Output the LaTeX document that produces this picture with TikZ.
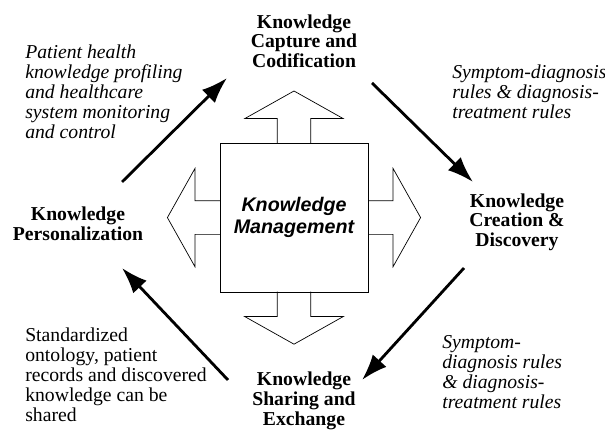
\documentclass[tikz,border=0pt]{standalone}
\usepackage{fontspec}
\setmainfont{Liberation Serif}
\newfontfamily\kmsans{Liberation Sans}
\usetikzlibrary{arrows.meta,positioning}

\tikzset{
  stage/.style={align=center,inner sep=0pt,
    font=\fontsize{14}{14}\selectfont\bfseries},
  flowlbl/.style={anchor=west,align=left,inner sep=0pt,
    font=\fontsize{14}{14.2}\selectfont\itshape},
  flow/.style={-{Latex[length=6.5mm,width=4.6mm]},line width=2pt},
  blockarrow/.style={line width=.5pt,line join=miter},
}

\begin{document}
\begin{tikzpicture}[x=1cm,y=1cm]
    \useasboundingbox (0,0) rectangle (15.125,10.75);
    % centre box
    \node[draw,line width=.6pt,minimum width=3.7cm,minimum height=3.725cm,
      align=center,font=\kmsans\fontsize{14}{15.6}\selectfont\bfseries\itshape]
      (km) at (7.35,5.31) {Knowledge\\Management};
    \foreach \ang in {0,90,180,270}
      \draw[blockarrow,shift={(km.center)},rotate=\ang]
        (1.85,.42) -- (2.475,.42) -- (2.475,1.23) -- (3.165,0)
        -- (2.475,-1.23) -- (2.475,-.42) -- (1.85,-.42);
    % stages
    \node[stage] (capt) at (7.6,9.725) {Knowledge\\Capture and\\Codification};
    \node[stage] (creat) at (12.925,5.2) {Knowledge\\Creation \&\\Discovery};
    \node[stage] (share) at (7.6,.725) {Knowledge\\Sharing and\\Exchange};
    \node[stage] (pers) at (1.95,5.15) {Knowledge\\Personalization};
    % labels of the cycle
    \node[flowlbl] (lblprofile) at (.625,8.45)
      {Patient health\\knowledge profiling\\and healthcare\\system monitoring\\and control};
    \node[flowlbl] (lblrules) at (11.3,8.45)
      {Symptom-diagnosis\\rules \& diagnosis-\\treatment rules};
    \node[flowlbl] (lblrulesb) at (11.05,1.45)
      {Symptom-\\diagnosis rules\\\& diagnosis-\\treatment rules};
    \node[flowlbl,font=\fontsize{14}{14.2}\selectfont\upshape] (lblshared) at (.625,1.375)
      {Standardized\\ontology, patient\\records and discovered\\knowledge can be\\shared};
    % cycle arrows
    \coordinate (persout) at (3.05,6.2);
    \coordinate (captin) at (5.675,8.8);
    \coordinate (captout) at (9.3,8.675);
    \coordinate (creatin) at (11.825,6.2);
    \coordinate (creatout) at (11.6,4.05);
    \coordinate (sharein) at (9.05,1.25);
    \coordinate (shareout) at (5.7,1.25);
    \coordinate (persin) at (3.05,4.05);
    \draw[flow] (persout) -- (captin);
    \draw[flow] (captout) -- (creatin);
    \draw[flow] (creatout) -- (sharein);
    \draw[flow] (shareout) -- (persin);
  \end{tikzpicture}
\end{document}
